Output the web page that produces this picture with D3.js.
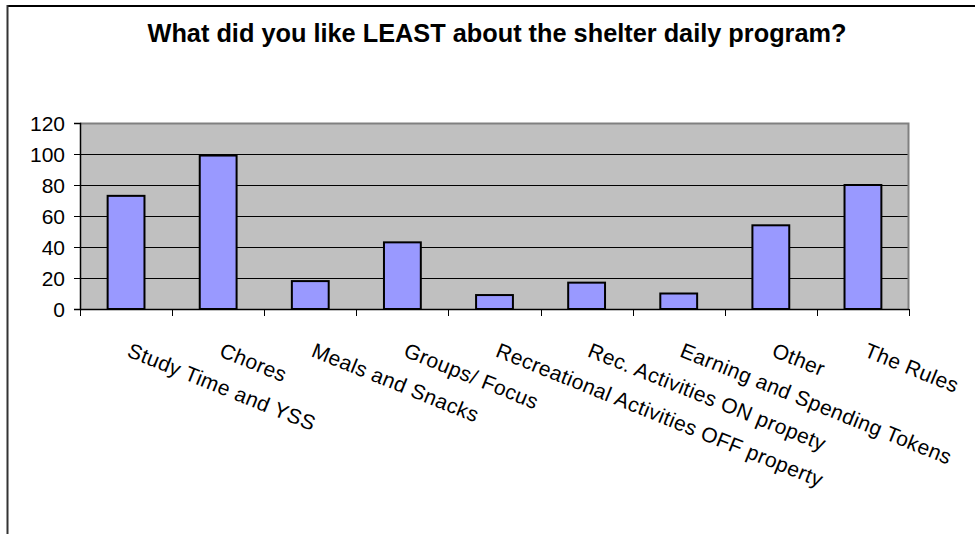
<!DOCTYPE html>
<html>
<head>
<meta charset="utf-8">
<script src="https://cdn.jsdelivr.net/npm/d3@7"></script>
<style>
  html, body { margin: 0; padding: 0; background: #fff; }
  svg { display: block; }
  text { font-family: "Liberation Sans", Arial, sans-serif; fill: #000; }
</style>
</head>
<body>
<script>
// Survey responses: things liked least about the daily program
const categories = [
  "Study Time and YSS",
  "Chores",
  "Meals and Snacks",
  "Groups/ Focus",
  "Recreational Activities OFF property",
  "Rec. Activities ON propety",
  "Earning and Spending Tokens",
  "Other",
  "The Rules"
];
const counts = [73, 99, 18, 43, 9, 17, 10, 54, 80];
const yTicks = [0, 20, 40, 60, 80, 100, 120];
const title = "What did you like LEAST about the shelter daily program?";

const W = 975, H = 534;
const plot = { left: 80, right: 909, top: 123, bottom: 309 };

const svg = d3.select("body").append("svg")
  .attr("width", W).attr("height", H);

// chart frame (top and left edges visible)
svg.append("line")
  .attr("x1", 7.5).attr("x2", W + 2).attr("y1", 6).attr("y2", 6)
  .attr("stroke", "#000").attr("stroke-width", 2);
svg.append("line")
  .attr("x1", 7.5).attr("x2", 7.5).attr("y1", 5).attr("y2", H + 2)
  .attr("stroke", "#333").attr("stroke-width", 2);

// title, condensed bold
svg.append("text")
  .attr("x", 497).attr("y", 42)
  .attr("text-anchor", "middle")
  .style("font-weight", "bold")
  .style("font-size", "26px")
  .attr("textLength", 699)
  .attr("lengthAdjust", "spacingAndGlyphs")
  .text(title);

const x = d3.scaleBand()
  .domain(categories)
  .range([plot.left, plot.right])
  .paddingInner(0.6).paddingOuter(0.3);

const xTickScale = d3.scaleBand()
  .domain(categories)
  .range([plot.left, plot.right]);

const y = d3.scaleLinear()
  .domain([0, 120])
  .range([plot.bottom, plot.top]);

// plot area background
svg.append("rect")
  .attr("x", plot.left).attr("y", plot.top)
  .attr("width", plot.right - plot.left).attr("height", plot.bottom - plot.top)
  .attr("fill", "#c0c0c0");

// gridlines
svg.append("g")
  .selectAll("line")
  .data(yTicks.filter(d => d > 0 && d < 120))
  .join("line")
  .attr("x1", plot.left).attr("x2", plot.right)
  .attr("y1", d => Math.round(y(d)) + 0.5).attr("y2", d => Math.round(y(d)) + 0.5)
  .attr("stroke", "#000").attr("stroke-width", 1);

// plot border (top and right in gray)
svg.append("path")
  .attr("d", `M${plot.left},${plot.top + 0.5}H${plot.right - 0.5}V${plot.bottom}`)
  .attr("fill", "none").attr("stroke", "#808080").attr("stroke-width", 2);

// bars
svg.append("g")
  .selectAll("rect")
  .data(categories)
  .join("rect")
  .attr("x", d => x(d))
  .attr("width", x.bandwidth())
  .attr("y", (d, i) => y(counts[i]))
  .attr("height", (d, i) => y(0) - y(counts[i]))
  .attr("fill", "#9999ff")
  .attr("stroke", "#000")
  .attr("stroke-width", 2);

// y axis
const yAxis = svg.append("g")
  .attr("transform", `translate(${plot.left},0)`)
  .call(d3.axisLeft(y).tickValues(yTicks).tickSize(6).tickPadding(9));
yAxis.select(".domain").attr("stroke", "#000").attr("stroke-width", 1.5);
yAxis.selectAll(".tick line").attr("stroke", "#000");
yAxis.selectAll("text")
  .style("font-size", "21px")
  .attr("dy", "0.36em");

// x axis: ticks at category boundaries
const boundaries = categories.map(c => xTickScale(c)).concat([plot.right]);
const xAxis = svg.append("g")
  .attr("transform", `translate(0,${plot.bottom})`);
xAxis.append("line")
  .attr("x1", plot.left).attr("x2", plot.right)
  .attr("y1", 0.5).attr("y2", 0.5)
  .attr("stroke", "#000").attr("stroke-width", 1.5);
xAxis.selectAll(".btick")
  .data(boundaries)
  .join("line")
  .attr("class", "btick")
  .attr("x1", d => Math.round(d) + 0.5).attr("x2", d => Math.round(d) + 0.5)
  .attr("y1", 0).attr("y2", 7)
  .attr("stroke", "#000").attr("stroke-width", 1);

// rotated category labels
xAxis.selectAll(".clabel")
  .data(categories)
  .join("text")
  .attr("class", "clabel")
  .attr("transform", d => `translate(${xTickScale(d) + xTickScale.bandwidth() / 2},${47}) rotate(22)`)
  .attr("text-anchor", "start")
  .style("font-size", "21px")
  .style("letter-spacing", "0.4px")
  .text(d => d);
</script>
</body>
</html>
